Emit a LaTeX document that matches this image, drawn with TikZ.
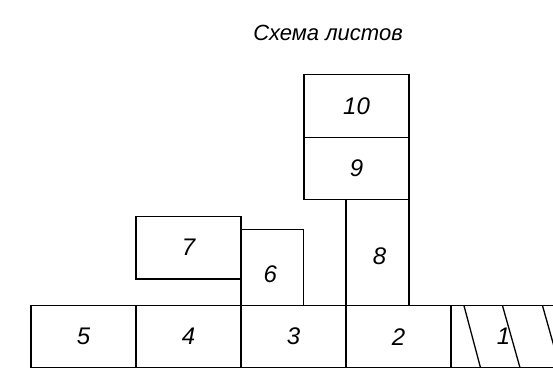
\documentclass[tikz,border=0pt]{standalone}
\usepackage{fontspec}
\setmainfont{Liberation Sans}
\usepackage{tikz}
\usetikzlibrary{
    positioning
}

\begin{document}
\begin{tikzpicture}[
    x=1pt, y=-1pt,
    node distance=0pt,
    sheet/.style={
        draw,
        line width=1.3pt,
        outer sep=0pt,
        inner sep=0pt,
        minimum width=105pt,
        minimum height=62pt,
        font=\itshape\fontsize{24}{28}\selectfont
    },
    hatch/.style={line width=1.3pt}
]
\useasboundingbox (0,0) rectangle (553,373);
\clip (0,0) rectangle (553,373);

\node[font=\itshape\fontsize{22}{26}\selectfont] (title) at (328,33) {Схема листов};

% bottom row
\node[sheet] (s5) at (83.5,336.7) {5};
\node[sheet, right=of s5] (s4) {4};
\node[sheet, right=of s4] (s3) {3};
\node[sheet, right=of s3] (s2) {2};
\node[sheet, right=of s2] (s1) {1};

% upper sheets
\node[sheet, minimum height=62.7pt, above=26.7pt of s4] (s7) {7};
\node[sheet, minimum width=62.7pt, minimum height=76.4pt,
    anchor=south west, label={[font=\itshape\fontsize{24}{28}\selectfont, yshift=-7pt, xshift=-2pt]center:6}]
    (s6) at (s3.north west) {};
\node[sheet, minimum width=63pt, minimum height=106.4pt,
    anchor=south west, label={[font=\itshape\fontsize{24}{28}\selectfont, yshift=-4pt, xshift=2pt]center:8}]
    (s8) at (s2.north west) {};
\node[sheet, anchor=south east] (s9) at (s8.north east) {9};
\node[sheet, minimum height=62.6pt, above=of s9] (s10) {10};

% hatching on sheet 1
\draw[hatch] ([xshift=13pt]s1.north west) -- ([xshift=29.5pt]s1.south west);
\draw[hatch] ([xshift=51.5pt]s1.north west) -- ([xshift=69pt]s1.south west);
\draw[hatch] ([xshift=91.5pt]s1.north west) -- ([xshift=109pt]s1.south west);

\end{tikzpicture}
\end{document}
